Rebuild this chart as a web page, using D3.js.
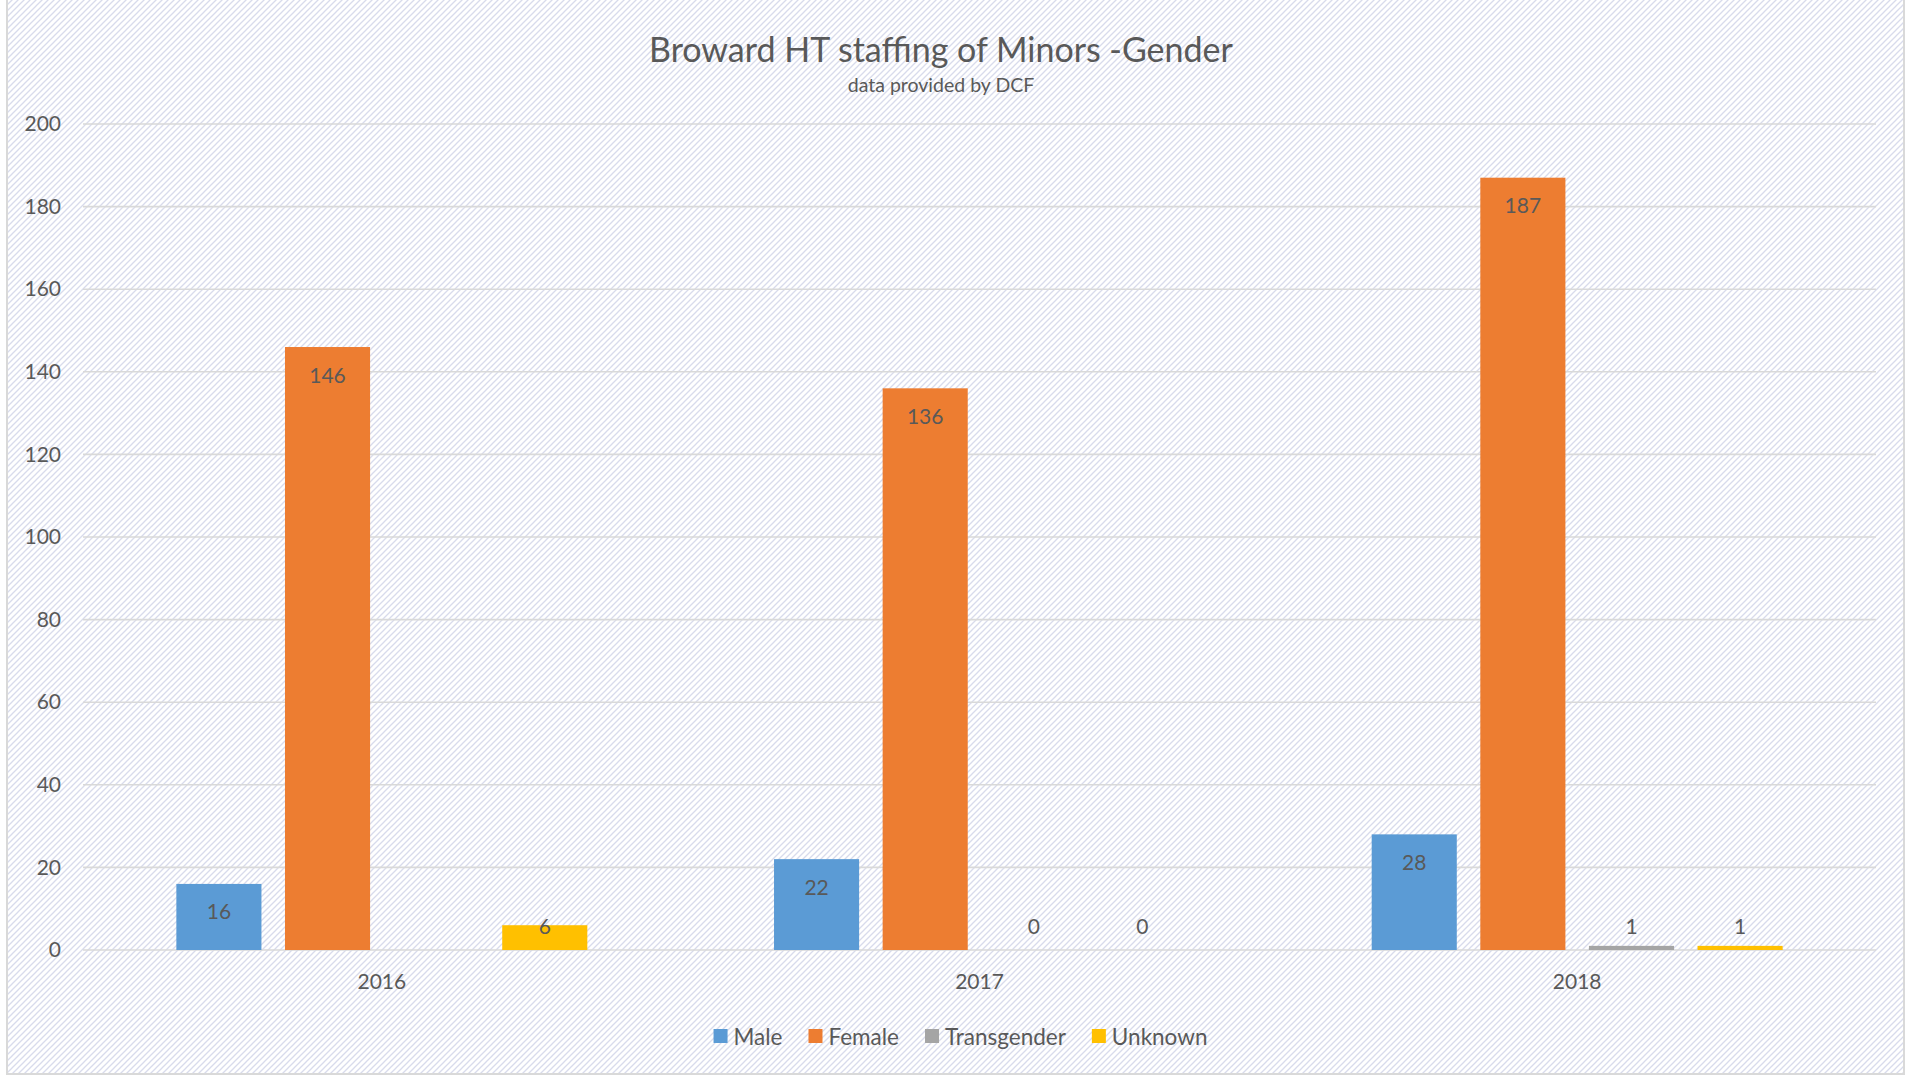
<!DOCTYPE html>
<html>
<head>
<meta charset="utf-8">
<script src="https://cdn.jsdelivr.net/npm/d3@7"></script>
<style>
  body { margin: 0; background: #fff; }
  text { font-family: Lato, "Open Sans", sans-serif; fill: #595959; }
</style>
</head>
<body>
<svg id="app" width="1908" height="1081"></svg>
<script>
// data
const years = ["2016", "2017", "2018"];
const seriesNames = ["Male", "Female", "Transgender", "Unknown"];
const male = [16, 22, 28];
const female = [146, 136, 187];
const transgender = [null, 0, 1];
const unknown = [6, 0, 1];
const yTicks = [0, 20, 40, 60, 80, 100, 120, 140, 160, 180, 200];
const colors = ["#5b9bd5", "#ed7d31", "#a5a5a5", "#ffc000"];

const seriesValues = [male, female, transgender, unknown];

const W = 1908, H = 1081;
const MARGIN = { TOP: 124, RIGHT: 32, BOTTOM: 131, LEFT: 83 };

const svg = d3.select("#app");

// hatched background
const defs = svg.append("defs");
const pat = defs.append("pattern")
  .attr("id", "hatch")
  .attr("patternUnits", "userSpaceOnUse")
  .attr("width", 6).attr("height", 6);
pat.append("rect").attr("width", 6).attr("height", 6).attr("fill", "#ffffff");
pat.append("path")
  .attr("d", "M-1,1 l2,-2 M0,6 l6,-6 M5,7 l2,-2")
  .attr("stroke", "#d8dbec").attr("stroke-width", 1.3);

svg.append("rect")
  .attr("x", 7).attr("y", -2)
  .attr("width", 1897).attr("height", 1076)
  .attr("fill", "url(#hatch)")
  .attr("stroke", "#d9d9d9").attr("stroke-width", 2);

const innerW = W - MARGIN.LEFT - MARGIN.RIGHT;
const innerH = H - MARGIN.TOP - MARGIN.BOTTOM;

// scales
const x0 = d3.scaleBand()
  .domain(years)
  .range([MARGIN.LEFT, MARGIN.LEFT + innerW])
  .paddingInner(0.3124)
  .paddingOuter(0.1562);

const x1 = d3.scaleBand()
  .domain(seriesNames)
  .range([0, x0.bandwidth()])
  .paddingInner(0.2166);

const y = d3.scaleLinear()
  .domain([0, 200])
  .range([MARGIN.TOP + innerH, MARGIN.TOP]);

// gridlines
svg.append("g")
  .selectAll("line")
  .data(yTicks)
  .enter()
  .append("line")
  .attr("x1", MARGIN.LEFT)
  .attr("x2", MARGIN.LEFT + innerW)
  .attr("y1", d => y(d))
  .attr("y2", d => y(d))
  .attr("stroke", "#d9d9d9")
  .attr("stroke-width", 1.6);

// y axis labels
const yAxis = d3.axisLeft(y).tickValues(yTicks).tickSize(0).tickPadding(0);
const gy = svg.append("g")
  .attr("transform", `translate(${MARGIN.LEFT - 22},0)`)
  .call(yAxis);
gy.select(".domain").remove();
gy.selectAll("text")
  .style("font-size", "21px")
  .style("font-family", "Lato, sans-serif")
  .attr("fill", "#595959");

// x axis labels
const xAxis = d3.axisBottom(x0).tickSize(0).tickPadding(0);
const gx = svg.append("g")
  .attr("transform", `translate(0,${y(0) + 24})`)
  .call(xAxis);
gx.select(".domain").remove();
gx.selectAll("text")
  .style("font-size", "21px")
  .style("font-family", "Lato, sans-serif")
  .attr("fill", "#595959");

// bars
const rows = [];
years.forEach((yr, i) => {
  seriesNames.forEach((s, j) => {
    rows.push({ year: yr, series: s, value: seriesValues[j][i], color: colors[j] });
  });
});

const groups = svg.append("g").attr("class", "bars");
groups.selectAll("rect")
  .data(rows.filter(d => d.value !== null))
  .enter()
  .append("rect")
  .attr("x", d => x0(d.year) + x1(d.series))
  .attr("y", d => y(d.value))
  .attr("width", x1.bandwidth())
  .attr("height", d => y(0) - y(d.value))
  .attr("fill", d => d.color);

// data labels
svg.append("g").attr("class", "textGroup")
  .selectAll("text")
  .data(rows.filter(d => d.value !== null))
  .enter()
  .append("text")
  .attr("text-anchor", "middle")
  .attr("dominant-baseline", "central")
  .style("font-size", "21px")
  .attr("x", d => x0(d.year) + x1(d.series) + x1.bandwidth() / 2)
  .attr("y", d => Math.min(y(d.value) + 27, y(0) - 25))
  .text(d => d.value);

// title
svg.append("text")
  .attr("x", 941).attr("y", 48)
  .attr("text-anchor", "middle")
  .attr("dominant-baseline", "central")
  .style("font-size", "34px")
  .text("Broward HT staffing of Minors -Gender");

svg.append("text")
  .attr("x", 941).attr("y", 84)
  .attr("text-anchor", "middle")
  .attr("dominant-baseline", "central")
  .style("font-size", "19.5px")
  .text("data provided by DCF");

// legend
const legend = svg.append("g");
const items = legend.selectAll("g")
  .data(seriesNames)
  .enter()
  .append("g");
items.append("rect")
  .attr("width", 14).attr("height", 14)
  .attr("y", -7)
  .attr("fill", (d, i) => colors[i]);
items.append("text")
  .attr("x", 20)
  .attr("dominant-baseline", "central")
  .style("font-size", "22.5px")
  .text(d => d);
let lx = 0;
items.each(function () {
  const w = 20 + d3.select(this).select("text").node().getComputedTextLength();
  d3.select(this).attr("transform", `translate(${lx},0)`);
  lx += w + 26;
});
lx -= 26;
legend.attr("transform", `translate(${960.5 - lx / 2},1036)`);
</script>
</body>
</html>
